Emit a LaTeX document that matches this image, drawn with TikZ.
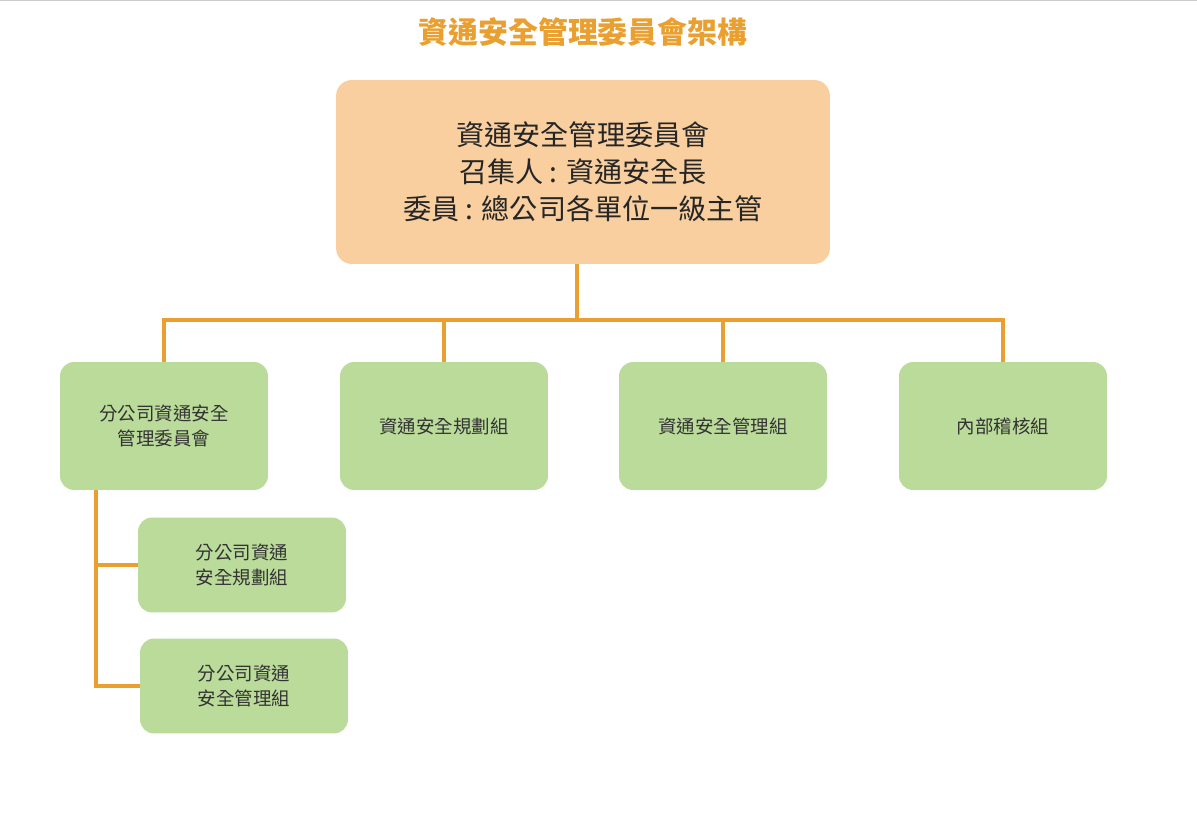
\documentclass[tikz,border=0pt]{standalone}
\usepackage{fontspec}
\setmainfont{Noto Sans CJK TC}
\usetikzlibrary{positioning}
\definecolor{lineor}{HTML}{E9A030}
\definecolor{topfill}{HTML}{F9CFA0}
\definecolor{boxfill}{HTML}{BBDB9B}
\begin{document}
\begin{tikzpicture}[x=0.02cm,y=-0.02cm,
        top box/.style={fill=topfill, rounded corners=9pt, minimum width=9.88cm, minimum height=3.68cm, align=center, font=\fontsize{16}{21}\selectfont, text=black!85},
        unit box/.style={fill=boxfill, rounded corners=8pt, minimum width=4.16cm, minimum height=2.56cm, align=center, font=\fontsize{10.5}{14}\selectfont, text=black!80},
        sub box/.style={unit box, minimum height=1.9cm},
        link/.style={draw=lineor, line width=2.2pt}]
      \useasboundingbox (0,0) rectangle (1197,813);
      \draw[black!20] (0,0) -- (1197,0);
      \node[text=lineor, font=\fontsize{17}{20}\selectfont\bfseries] (title) at (583,32) {資通安全管理委員會架構};

      \node[top box] (committee) at (583,172) {資通安全管理委員會\\召集人 : 資通安全長\\委員 : 總公司各單位一級主管};

      \node[unit box] (branch) at (164,426) {分公司資通安全\\管理委員會};
      \node[unit box] (plan)   at (444,426) {資通安全規劃組};
      \node[unit box] (manage) at (723,426) {資通安全管理組};
      \node[unit box] (audit)  at (1003,426) {內部稽核組};

      \node[sub box] (bplan)   at (242,565) {分公司資通\\安全規劃組};
      \node[sub box] (bmanage) at (244,686) {分公司資通\\安全管理組};

      % tree links
      \coordinate (split) at (577,320);
      \draw[link] (committee.south -| split) -- (split);
      \draw[link] (branch.north) |- (split) -| (audit.north);
      \draw[link] (plan.north) -- (plan.north |- split);
      \draw[link] (manage.north) -- (manage.north |- split);

      \coordinate (drop) at (96,490);
      \draw[link] (drop) |- (bmanage.west);
      \draw[link] (bplan.west) -- (bplan.west -| drop);
\end{tikzpicture}
\end{document}
